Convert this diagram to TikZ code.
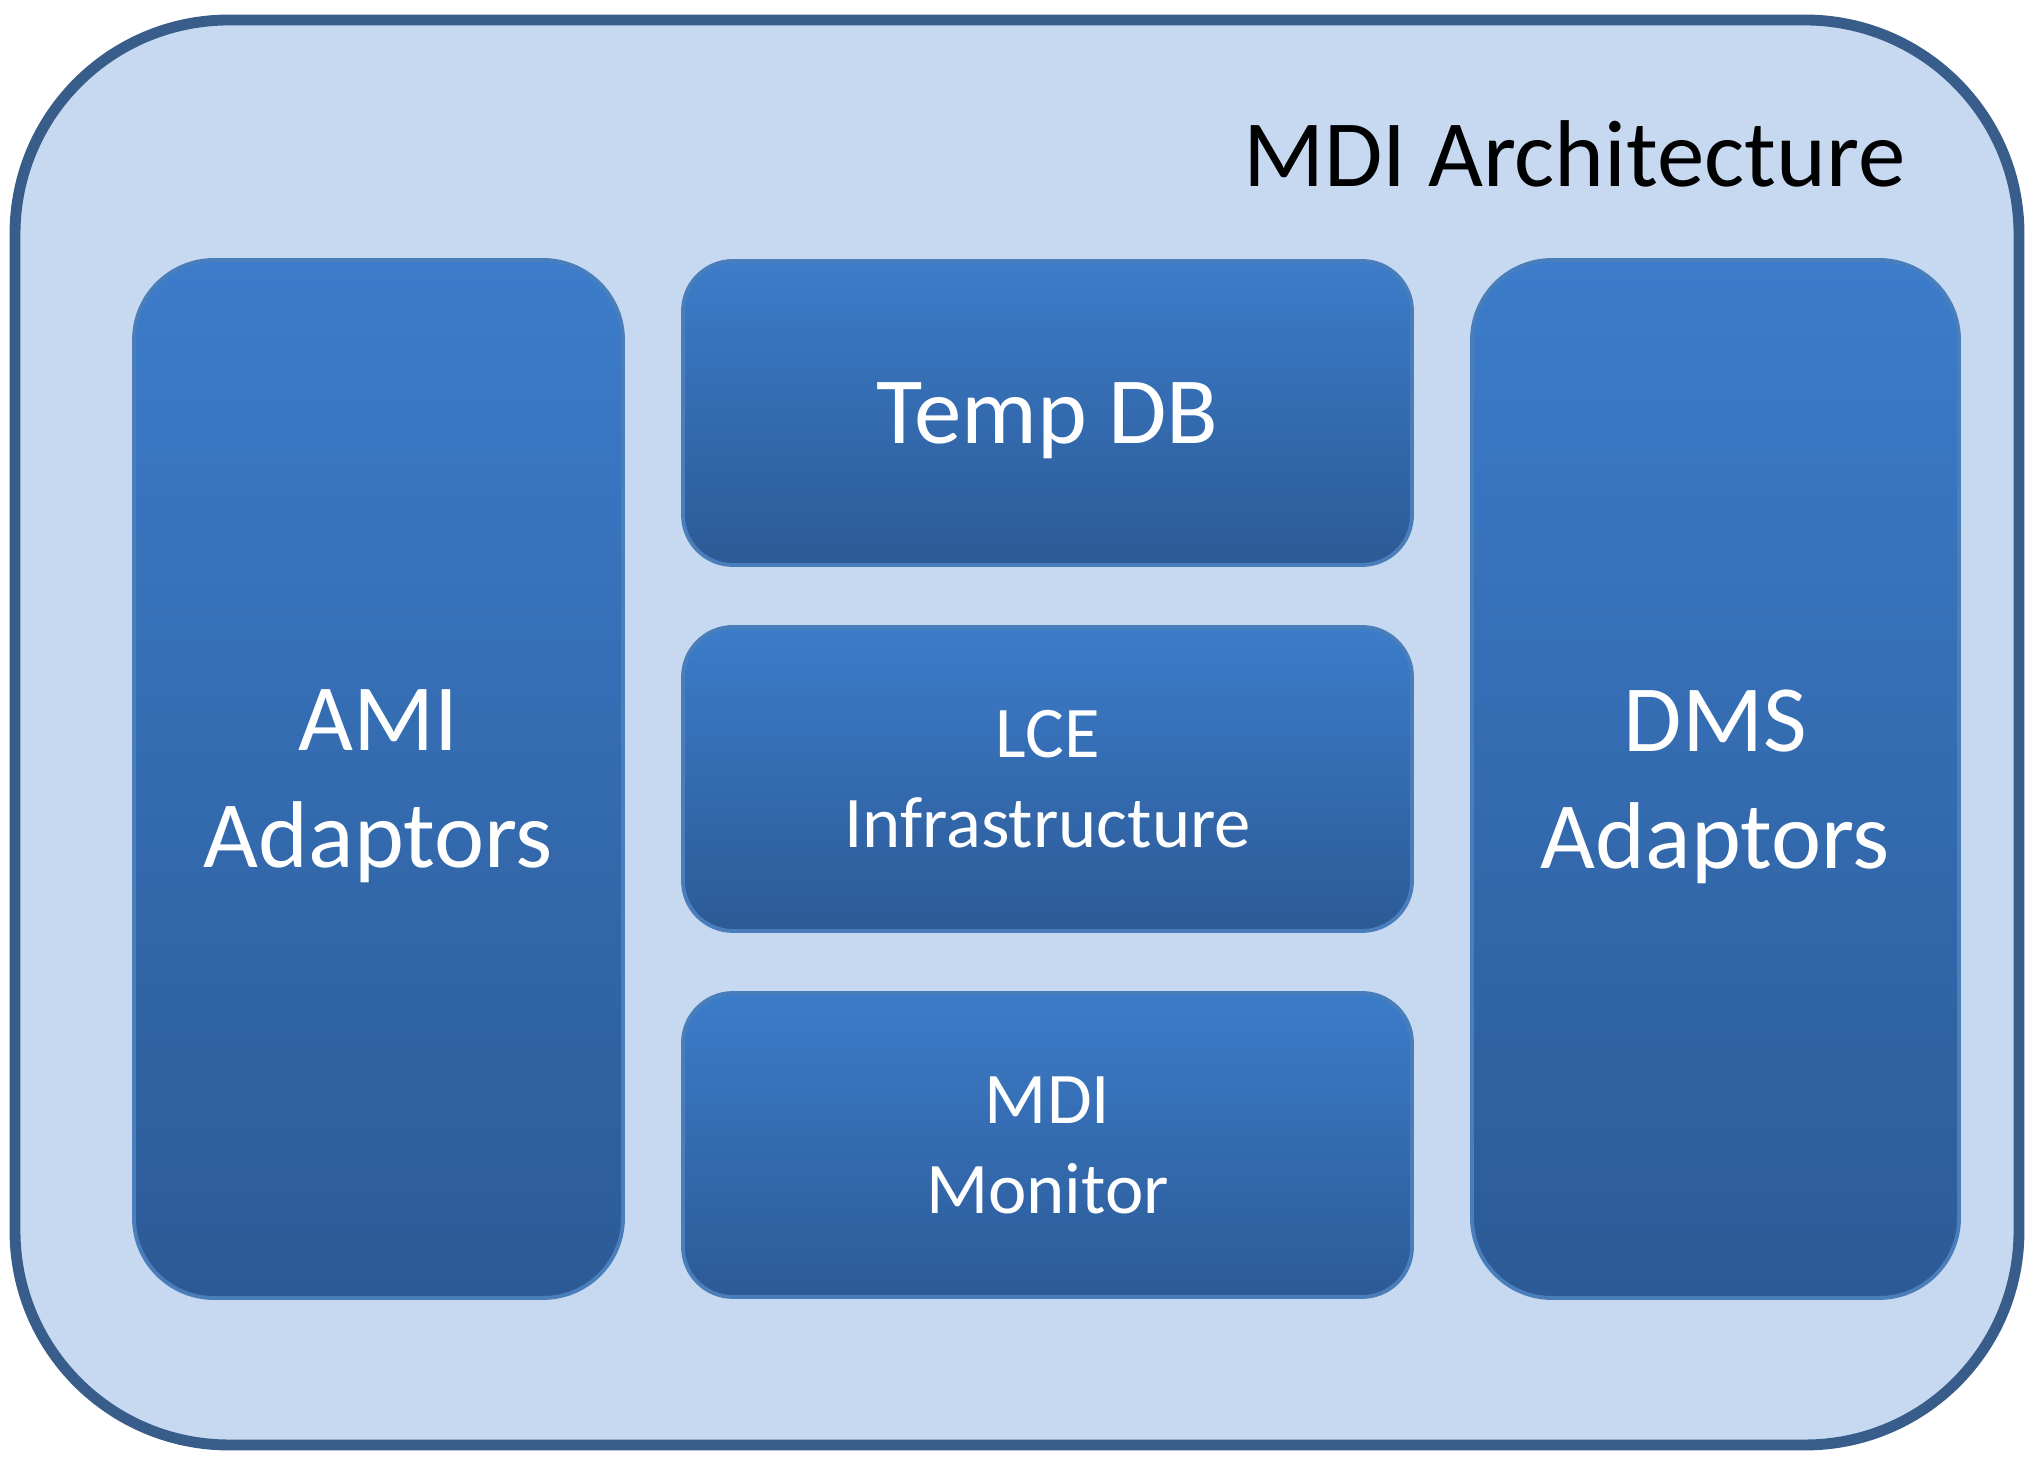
\documentclass[tikz,border=0pt]{standalone}
\usepackage{fontspec}
\setmainfont{Carlito}
\definecolor{framefill}{HTML}{C6D9F1}
\definecolor{frameline}{HTML}{385D8A}
\definecolor{boxtop}{HTML}{3C7CCA}
\definecolor{boxbot}{HTML}{2C5A96}
\definecolor{boxline}{HTML}{4A7EBB}

\begin{document}
\begin{tikzpicture}
\tikzstyle{b}=[draw=boxline,line width=1.1pt,rounded corners=0.8cm,top color=boxtop,bottom color=boxbot,text=white,align=center,text depth=0pt,font=\fontsize{27}{33.3}\selectfont]
\tikzstyle{s}=[b,rounded corners=0.5cm,minimum width=7.29cm,minimum height=3.04cm]
\useasboundingbox (0,0) rectangle (20.37,14.61);
\node[draw=frameline,line width=3.1pt,fill=framefill,rounded corners=2.14cm,minimum width=20.04cm,minimum height=14.25cm] (frame) at (10.17,7.285) {};
\node[anchor=base east,inner sep=0pt,font=\fontsize{27}{33}\selectfont] (title) at (19.06,12.74) {MDI Architecture};
\node[b,minimum width=4.89cm,minimum height=10.38cm] (ami) at (3.785,6.82) {AMI\\Adaptors};
\node[b,minimum width=4.87cm,minimum height=10.38cm] (dms) at (17.155,6.82) {DMS\\Adaptors};
\node[s] (tempdb) at (10.475,10.48) {Temp DB};
\node[s,font=\fontsize{20.7}{25.5}\selectfont] (lce) at (10.475,6.82) {LCE\\Infrastructure};
\node[s,font=\fontsize{20.7}{25.5}\selectfont] (monitor) at (10.475,3.16) {MDI\\Monitor};
\end{tikzpicture}
\end{document}
